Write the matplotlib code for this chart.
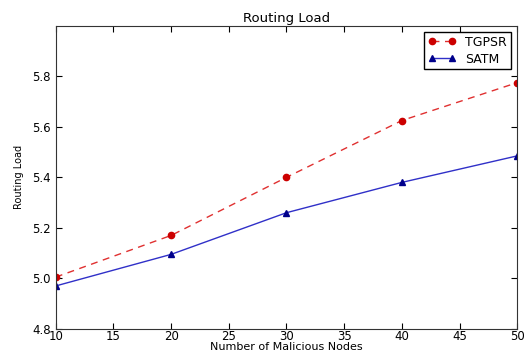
import matplotlib
matplotlib.use("Agg")
import matplotlib.pyplot as plt

nodes = [10, 20, 30, 40, 50]
tgpsr = [5.005, 5.17, 5.40, 5.625, 5.775]
satm = [4.97, 5.095, 5.26, 5.38, 5.485]

fig = plt.figure(figsize=(5.31, 3.54), dpi=100)
ax = fig.add_axes([0.105, 0.071, 0.869, 0.856])
ax.plot(nodes, tgpsr, '--o', markersize=4.5, linewidth=1.0, label='TGPSR', color='#e03030',
        markeredgecolor='#cc0000', markerfacecolor='#cc0000', dashes=(5, 4))
ax.plot(nodes, satm, '-^', color='#3030c8', markersize=4.5, linewidth=1.0, label='SATM',
        markerfacecolor='#00008b', markeredgecolor='#00008b')
ax.set_xlim(10, 50)
ax.set_ylim(4.8, 6.0)
ax.set_yticks([4.8, 5.0, 5.2, 5.4, 5.6, 5.8])
ax.set_xticks(range(10, 51, 5))
ax.tick_params(direction='in', top=True, right=True, labelsize=8.5, length=4)
ax.tick_params(axis='x', pad=1)
for s in ax.spines.values():
    s.set_color('#333333')
ax.set_title('Routing Load', fontsize=9.5, pad=3)
ax.set_xlabel('Number of Malicious Nodes', fontsize=8, labelpad=-1)
ax.set_ylabel('Routing Load', fontsize=7, labelpad=6)
leg = ax.legend(loc='upper right', fontsize=9, fancybox=False, framealpha=1,
                edgecolor='black', handlelength=2.2, numpoints=2, borderaxespad=0.5,
                borderpad=0.3, labelspacing=0.3)
fig.savefig('out.png', dpi=100)
